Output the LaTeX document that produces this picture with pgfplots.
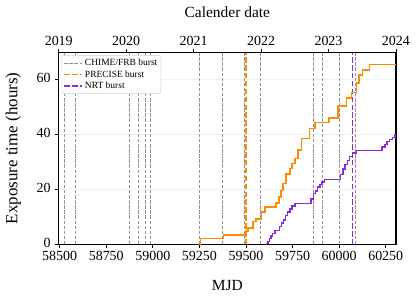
\documentclass[border=0pt]{standalone}
\usepackage{fontspec}
\setmainfont{Liberation Serif}
\usepackage{pgfplots}
\pgfplotsset{compat=1.18}
\usetikzlibrary{calc}

\definecolor{corange}{HTML}{FF8C00}
\definecolor{cpurple}{HTML}{8A2BE2}
\definecolor{cgray}{HTML}{919191}

\pgfplotstableread{
mjd hours
59250 0
59257 2.1
59378 3.4
59497 5.0
59512 6.0
59537 8.3
59553 9.2
59584 11.8
59601 13.7
59660 15.2
59678 17.3
59687 19.6
59699 22.2
59714 25.6
59735 27.6
59746 29.5
59762 31.3
59780 34.4
59798 38.6
59842 42.3
59869 44.4
59946 46.0
59994 50.5
60039 53.3
60065 55.3
60092 58.8
60106 61.8
60124 63.6
60163 65.6
60305 65.6
}\precise

\pgfplotstableread{
mjd hours
59605 0
59610 0.4
59618 1.0
59626 2.2
59634 3.0
59642 4.0
59655 5.1
59680 6.5
59690 7.8
59700 9.0
59712 10.5
59724 11.8
59736 13.0
59748 14.0
59762 14.9
59850 16.5
59862 18.5
59872 19.5
59884 21.0
59896 21.8
59908 22.8
59922 23.7
60008 25.5
60020 27.5
60032 29.2
60044 30.6
60056 32.0
60071 33.4
60092 34.3
60230 35.5
60245 36.5
60258 37.5
60270 38.3
60285 39.0
60300 40.0
60305 40.2
}\nrt

\begin{document}
\begin{tikzpicture}
\begin{axis}[
  name=main,
  scale only axis, width=337bp, height=192bp,
  xmin=58495, xmax=60305, ymin=0, ymax=70,
  xtick={58500,58750,...,60250},
  ytick={0,20,40,60},
  scaled x ticks=false,
  scaled y ticks=false,
  xticklabel style={/pgf/number format/fixed, /pgf/number format/precision=0},
  tick pos=left,
  tick align=outside,
  major tick length=3.5bp,
  /pgf/number format/1000 sep={},
  /pgf/number format/assume math mode=true,
  tick label style={font=\fontsize{14}{16}\selectfont, inner sep=1bp},
  xticklabel style={yshift=-2.5bp},
  yticklabel style={xshift=-3.5bp, yshift=1.5bp},
  axis line style={line width=1.1bp},
  every tick/.style={black, line width=0.8bp},
  ymajorgrids,
  grid style={gray!12, line width=0.6bp},
  xlabel={MJD},
  xlabel style={font=\fontsize{15.5}{18}\selectfont, at={(axis description cs:0.5,-0.214)}, anchor=center},
  ylabel={Exposure time (hours)},
  ylabel style={font=\fontsize{17}{20}\selectfont, at={(axis description cs:-0.135,0.5)}, anchor=center},
  legend style={at={(0.009,0.985)}, anchor=north west, font=\fontsize{9.5}{10.5}\selectfont,
    draw=gray!35, rounded corners=2pt, fill=white, inner sep=1.5bp, row sep=-0.5bp},
  legend cell align=left,
  legend image code/.code={\draw[#1] (0bp,0bp) -- (18bp,0bp);},
]
\addlegendimage{cgray, line width=0.8bp, dash pattern=on 3.5bp off 1.6bp}
\addlegendentry{CHIME/FRB burst}
\addlegendimage{corange, line width=1.5bp, dash pattern=on 5.5bp off 2.4bp}
\addlegendentry{PRECISE burst}
\addlegendimage{cpurple, line width=1.5bp, dash pattern=on 5.5bp off 2.4bp}
\addlegendentry{NRT burst}

\pgfplotsinvokeforeach{58527,58586,58873,58923,58963,58986,59248,59375,59494,59575,59864,59908,60003,60089}{
  \addplot[cgray, line width=0.9bp, dash pattern=on 3.5bp off 1.6bp, forget plot] coordinates {(#1,0) (#1,70)};
}
\addplot[corange, line width=1.5bp, dash pattern=on 5.5bp off 2.4bp, forget plot] coordinates {(59500,0) (59500,70)};
\addplot[cpurple, line width=1.5bp, dash pattern=on 5.5bp off 2.4bp, forget plot] coordinates {(60071,0) (60071,70)};

\addplot[corange, line width=1.5bp, const plot, forget plot] table[x=mjd, y=hours] {\precise};
\addplot[cpurple, line width=1.5bp, const plot, forget plot] table[x=mjd, y=hours] {\nrt};
\end{axis}

\begin{axis}[
  scale only axis, width=337bp, height=192bp,
  xmin=2019, xmax=2024, ymin=0, ymax=1,
  axis x line*=top,
  axis y line=none,
  xtick={2019,...,2024},
  scaled x ticks=false,
  xticklabel style={/pgf/number format/fixed, /pgf/number format/precision=0},
  tick align=outside,
  major tick length=3.5bp,
  /pgf/number format/1000 sep={},
  /pgf/number format/assume math mode=true,
  tick label style={font=\fontsize{14}{16}\selectfont},
  axis line style={line width=1.1bp},
  every tick/.style={black, line width=0.8bp},
  xlabel={Calender date},
  xlabel style={font=\fontsize{15.5}{18}\selectfont, at={(axis description cs:0.5,1.207)}, anchor=center},
]
\addplot[draw=none] coordinates {(2019,0) (2024,1)};
\end{axis}

\pgfresetboundingbox
\path[use as bounding box] ($(main.south west)+(-58.7bp,-57bp)$) rectangle ($(main.north east)+(20bp,52.3bp)$);
\end{tikzpicture}
\end{document}
